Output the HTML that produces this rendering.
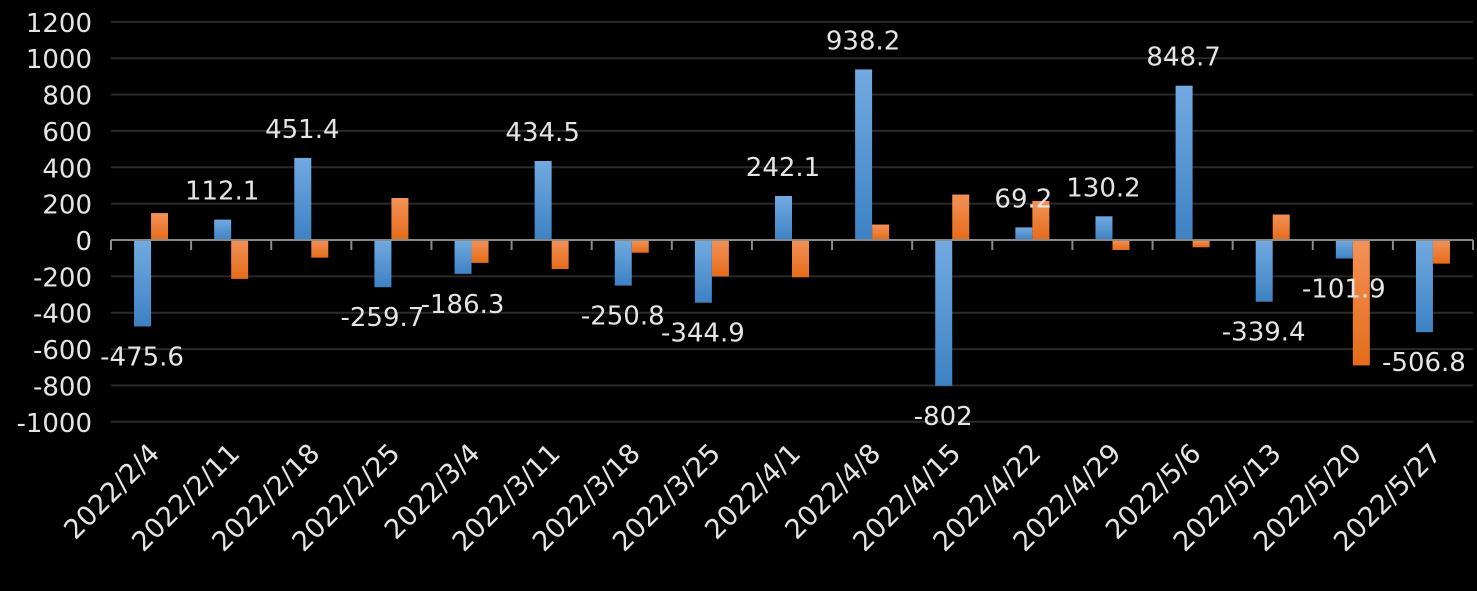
<!DOCTYPE html>
<html><head><meta charset="utf-8"><style>
html,body{margin:0;padding:0;background:#000;}
svg{display:block;}
text{font-family:"DejaVu Sans","Liberation Sans",sans-serif;fill:#e4e4e4;}
</style></head><body>
<svg width="1477" height="591" viewBox="0 0 1477 591" xmlns="http://www.w3.org/2000/svg">
<defs>
<linearGradient id="gb" x1="0" y1="0" x2="0" y2="1"><stop offset="0" stop-color="#72aae0"/><stop offset="1" stop-color="#3d82c4"/></linearGradient>
<linearGradient id="go" x1="0" y1="0" x2="0" y2="1"><stop offset="0" stop-color="#f39158"/><stop offset="1" stop-color="#e56c1a"/></linearGradient>
</defs>
<g id="c"></g>
</svg>
<script>
var g=document.getElementById('c');var NS='http://www.w3.org/2000/svg';
function el(t,a,txt){var e=document.createElementNS(NS,t);for(var k in a)e.setAttribute(k,a[k]);if(txt!=null)e.textContent=txt;g.appendChild(e);return e;}
var L=111,R=1473,Z=240,S=0.1818;function Y(v){return Z-v*S;}
for(var v=-1000;v<=1200;v+=200){var y=Y(v);if(v!=0)el('line',{x1:L,x2:R,y1:y,y2:y,stroke:'#2a2a2a','stroke-width':2});el('text',{x:92,y:y+10,'text-anchor':'end','font-size':26},String(v));}
var dates=['2022/2/4','2022/2/11','2022/2/18','2022/2/25','2022/3/4','2022/3/11','2022/3/18','2022/3/25','2022/4/1','2022/4/8','2022/4/15','2022/4/22','2022/4/29','2022/5/6','2022/5/13','2022/5/20','2022/5/27'];
var b=[-475.6,112.1,451.4,-259.7,-186.3,434.5,-250.8,-344.9,242.1,938.2,-802,69.2,130.2,848.7,-339.4,-101.9,-506.8];
var o=[148,-214,-97,231,-126,-160,-70,-200,-205,85,250,215,-55,-40,140,-690,-130];
var W=(R-L)/17;
for(var i=0;i<17;i++){var c=L+W*i+W/2;
var yb=Y(b[i]);el('rect',{x:c-17,y:Math.min(yb,Z),width:17,height:Math.abs(yb-Z),fill:'url(#gb)'});
var yo=Y(o[i]);el('rect',{x:c,y:Math.min(yo,Z),width:17,height:Math.abs(yo-Z),fill:'url(#go)'});
var ty=b[i]>0?yb-20:yb+39;el('text',{x:c-9,y:ty,'text-anchor':'middle','font-size':26},String(b[i]));
el('text',{x:c+10,y:455,'text-anchor':'end','font-size':27,fill:'#d6e3f0',transform:'rotate(-45 '+(c+10)+' 455)'},dates[i]);}
el('line',{x1:L,x2:R,y1:Z,y2:Z,stroke:'#8a8a8a','stroke-width':2});
for(var i=0;i<=17;i++){var x=L+W*i;el('line',{x1:x,x2:x,y1:Z,y2:Z+10,stroke:'#8a8a8a','stroke-width':2});}
</script>
</body></html>
